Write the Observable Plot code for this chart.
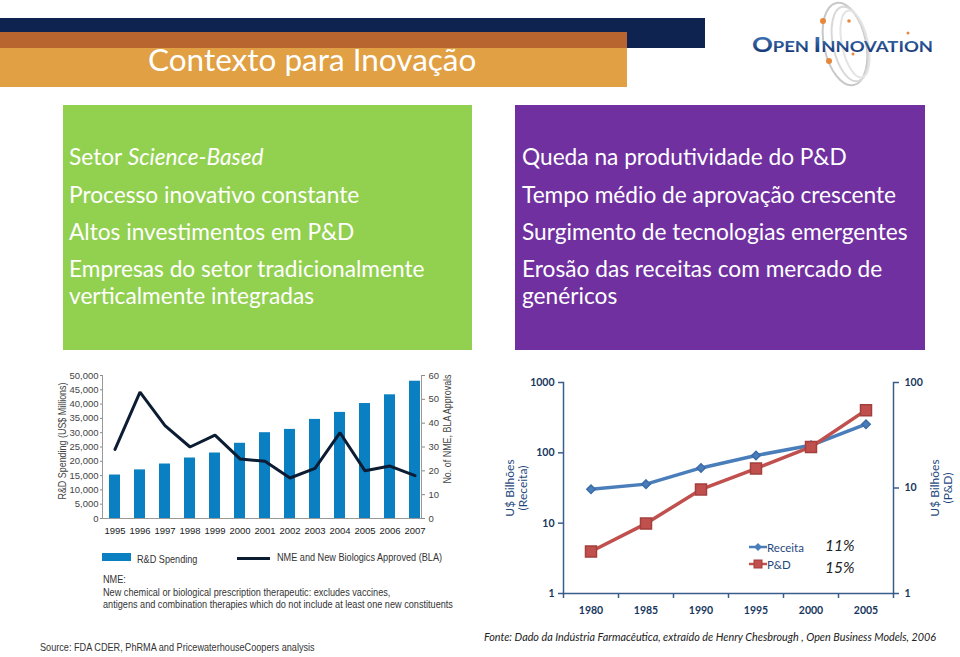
<!DOCTYPE html>
<html>
<head>
<meta charset="utf-8">
<script src="https://cdn.jsdelivr.net/npm/d3@7"></script>
<script src="https://cdn.jsdelivr.net/npm/@observablehq/plot@0.6"></script>
<style>
  html, body { margin:0; padding:0; background:#fff; }
  #slide { position:relative; width:960px; height:657px; overflow:hidden; background:#fff; font-family:Lato, "Open Sans", sans-serif; }
  .abs { position:absolute; }
  .box { position:absolute; color:#fff; font-size:22.7px; }
  .box div { white-space:nowrap; }
  .arial { font-family:"Liberation Sans", Arial, sans-serif; }
  .narrow { transform:scaleX(0.87); transform-origin:left top; white-space:nowrap; }
  .rot { position:absolute; transform-origin:center center; white-space:nowrap; text-align:center; }
</style>
</head>
<body>
<div id="slide">
  <!-- title banner -->
  <div class="abs" style="left:0;top:18px;width:705px;height:30px;background:#0f2350;"></div>
  <div class="abs" style="left:0;top:32px;width:627px;height:16px;background:#b8652f;"></div>
  <div class="abs" style="left:0;top:48px;width:627px;height:39px;background:#e0a043;"></div>
  <div class="abs" style="left:148px;top:40px;font-size:31.5px;color:#fff;font-family:Lato,'Open Sans',sans-serif;white-space:nowrap;">Contexto para Inovação</div>

  <!-- logo -->
  <svg class="abs" style="left:745px;top:0" width="215" height="100">
    <g fill="none" stroke="#c8c8c8" stroke-width="2">
      <ellipse cx="100" cy="44" rx="21" ry="42" transform="rotate(-12 100 44)"/>
      <ellipse cx="105" cy="44" rx="17" ry="38" transform="rotate(-12 105 44)" stroke="#d8d8d8"/>
      <ellipse cx="110" cy="44" rx="13" ry="34" transform="rotate(-12 110 44)" stroke="#e4e4e4"/>
    </g>
    <circle cx="78" cy="21" r="3" fill="#e8873a"/>
    <circle cx="84" cy="61" r="3" fill="#e8873a"/>
    <circle cx="104" cy="21" r="1.8" fill="#e8873a"/>
    <circle cx="108" cy="54" r="1.5" fill="#e8873a"/>
    <circle cx="163" cy="33" r="1.5" fill="#e8873a"/>
    <defs>
      <linearGradient id="lg" x1="0" y1="0" x2="0" y2="1">
        <stop offset="0" stop-color="#4b86c8"/>
        <stop offset="1" stop-color="#0f2a68"/>
      </linearGradient>
    </defs>
    <text x="7" y="52" fill="url(#lg)" font-family="Lato, 'DejaVu Sans', sans-serif" font-weight="bold" font-size="15" textLength="181" lengthAdjust="spacingAndGlyphs"><tspan font-size="21">O</tspan>PEN <tspan font-size="21">I</tspan>NNOVATION</text>
  </svg>

  <!-- green box -->
  <div class="box" style="left:63px;top:105px;width:409px;height:245px;background:#92d050;">
    <div style="padding:37px 0 0 6px;">
      <div style="height:37.5px;line-height:30px">Setor <i>Science-Based</i></div>
      <div style="height:37.5px;line-height:30px">Processo inovativo constante</div>
      <div style="height:37.5px;line-height:30px">Altos investimentos em P&amp;D</div>
      <div style="line-height:27px;">Empresas do setor tradicionalmente<br>verticalmente integradas</div>
    </div>
  </div>

  <!-- purple box -->
  <div class="box" style="left:515px;top:105px;width:410px;height:245px;background:#7030a0;">
    <div style="padding:37px 0 0 7px;">
      <div style="height:37.5px;line-height:30px">Queda na produtividade do P&amp;D</div>
      <div style="height:37.5px;line-height:30px">Tempo médio de aprovação crescente</div>
      <div style="height:37.5px;line-height:30px">Surgimento de tecnologias emergentes</div>
      <div style="line-height:27px;">Erosão das receitas com mercado de<br>genéricos</div>
    </div>
  </div>

  <!-- left chart -->
  <div id="chart1" class="abs" style="left:40px;top:360px;"></div>
  <div class="rot arial" style="left:-13px;top:435px;width:150px;font-size:10.5px;color:#444;transform:rotate(-90deg) scaleX(0.85);">R&amp;D Spending (US$ Millions)</div>
  <div class="rot arial" style="left:372px;top:423px;width:150px;font-size:10.5px;color:#444;transform:rotate(-90deg) scaleX(0.85);">No. of NME, BLA Approvals</div>

  <!-- left legend / notes -->
  <div class="abs" style="left:102px;top:553px;width:29px;height:8px;background:#0a7fc1;"></div>
  <div class="abs arial narrow" style="left:137px;top:553px;font-size:10.5px;color:#333;">R&amp;D Spending</div>
  <div class="abs" style="left:237px;top:557px;width:33px;height:3px;background:#0c1c33;"></div>
  <div class="abs arial narrow" style="left:277px;top:551px;font-size:10.5px;color:#333;">NME and New Biologics Approved (BLA)</div>
  <div class="abs arial narrow" style="left:103px;top:573px;font-size:10.5px;color:#333;line-height:12.7px;">NME:<br>New chemical or biological prescription therapeutic: excludes vaccines,<br>antigens and combination therapies which do not include at least one new constituents</div>
  <div class="abs arial narrow" style="left:40px;top:641px;font-size:10.5px;color:#333;">Source: FDA CDER, PhRMA and PricewaterhouseCoopers analysis</div>

  <!-- right chart -->
  <div id="chart2" class="abs" style="left:490px;top:365px;"></div>
  <div class="rot" style="left:476px;top:475px;width:80px;font-size:12px;color:#1f497d;line-height:13px;transform:rotate(-90deg);">U$ Bilhões<br>(Receita)</div>
  <div class="rot" style="left:901px;top:475px;width:80px;font-size:12px;color:#1f497d;line-height:13px;transform:rotate(-90deg);">U$ Bilhões<br>(P&amp;D)</div>

  <!-- right legend -->
  <svg class="abs" style="left:748px;top:538px" width="20" height="32">
    <line x1="1" y1="9" x2="19" y2="9" stroke="#4a7ebb" stroke-width="2.5"/>
    <path d="M10,5 L14,9 L10,13 L6,9 Z" fill="#4a7ebb"/>
    <line x1="1" y1="26" x2="19" y2="26" stroke="#c0504d" stroke-width="2.5"/>
    <rect x="6" y="22" width="8" height="8" fill="#c0504d" stroke="#a33f3c"/>
  </svg>
  <div class="abs" style="left:767px;top:539px;font-size:11.5px;color:#1f497d;line-height:17px;">Receita<br>P&amp;D</div>
  <div class="abs" style="left:825px;top:534px;font-size:15.5px;font-style:italic;color:#222;line-height:22px;">11%<br>15%</div>

  <div class="abs" style="left:484px;top:630px;font-size:10.8px;font-style:italic;color:#222;white-space:nowrap;">Fonte: Dado da Indústria Farmacêutica, extraído de Henry Chesbrough , Open Business Models, 2006</div>
</div>

<script>
// ---------- Data: left chart ----------
const years1 = ["1995","1996","1997","1998","1999","2000","2001","2002","2003","2004","2005","2006","2007"];
const rdSpending = [15200,17000,19050,21150,22900,26300,30000,31150,34650,37100,40200,43250,48000];
const nmeApprovals = [29,53,39,30,35,25,24,17,21,36,20,22,18];
const leftTicks1 = [0,5000,10000,15000,20000,25000,30000,35000,40000,45000,50000];
const rightTicks1 = [0,10,20,30,40,50,60];

// ---------- Data: right chart ----------
const years2 = [1980,1985,1990,1995,2000,2005];
const receita = [30.4,35.9,61,91.6,128,255];
const pdSpending = [2.5,4.6,9.7,15.3,24.5,54.7];
const leftTicks2 = [1,10,100,1000];
const rightTicks2 = [1,10,100];

// ---------- Left chart ----------
const maxL = 50000, maxR = 60;
const t1 = years1.map((y,i) => ({year:y, rd:rdSpending[i], nme:nmeApprovals[i]}));
const chart1 = Plot.plot({
  width:420, height:180,
  marginLeft:62, marginRight:39, marginTop:15, marginBottom:22,
  style:{fontFamily:"'Liberation Sans', Arial, sans-serif", fontSize:"9.5px", color:"#444", background:"transparent", overflow:"visible"},
  x:{type:"band", domain:years1, paddingInner:0.56, paddingOuter:0.14, align:0.85},
  y:{domain:[0,maxL]},
  marks:[
    Plot.barY(t1, {x:"year", y:"rd", fill:"#0a7fc1"}),
    Plot.lineY(t1, {x:"year", y:d => d.nme*maxL/maxR, stroke:"#0c1c33", strokeWidth:3, strokeLinejoin:"miter"}),
    Plot.axisY({ticks:leftTicks1, tickFormat:d3.format(","), tickSize:2, tickPadding:2, label:null, stroke:"#888"}),
    Plot.axisY({anchor:"right", ticks:rightTicks1.map(v => v*maxL/maxR), tickFormat:d => String(Math.round(d*maxR/maxL)), tickSize:3, tickPadding:4, label:null, stroke:"#888"}),
    Plot.axisX({tickSize:0, tickPadding:9, label:null, fill:"#222"}),
    Plot.ruleY([0], {stroke:"#999"}),
    Plot.frame({anchor:"left", stroke:"#999"}),
    Plot.frame({anchor:"right", stroke:"#999"})
  ]
});
document.getElementById("chart1").appendChild(chart1);

// ---------- Right chart ----------
const t2 = years2.map((y,i) => ({year:y, receita:receita[i], pd:pdSpending[i]}));
const toLeft = v => Math.pow(v, 1.5);          // right axis (1–100) onto left axis (1–1000)
const fromLeft = v => Math.pow(v, 1/1.5);
const bounds = d3.range(years2.length + 1).map(i => years2[0] - 2.5 + 5*i);
const chart2 = Plot.plot({
  width:470, height:260,
  marginLeft:73, marginRight:67, marginTop:17, marginBottom:32,
  style:{fontFamily:"Lato, 'Open Sans', sans-serif", fontSize:"10.5px", color:"#17375e", background:"transparent", overflow:"visible", fontWeight:"bold"},
  x:{domain:[bounds[0], bounds[bounds.length-1]]},
  y:{type:"log", domain:[1,1000]},
  marks:[
    Plot.frame({anchor:"left", stroke:"#385d8a", strokeWidth:1.5}),
    Plot.frame({anchor:"right", stroke:"#385d8a", strokeWidth:1.5}),
    Plot.frame({anchor:"bottom", stroke:"#385d8a", strokeWidth:1.5}),
    Plot.axisY({ticks:leftTicks2, tickFormat:d => String(d), tickSize:5, tickPadding:4, label:null, stroke:"#385d8a", strokeWidth:1.5}),
    Plot.axisY({anchor:"right", ticks:rightTicks2.map(toLeft), tickFormat:d => String(Math.round(fromLeft(d))), tickSize:5, tickPadding:6, label:null, stroke:"#385d8a", strokeWidth:1.5}),
    Plot.axisX({ticks:bounds, tickFormat:() => "", tickSize:5, label:null, stroke:"#385d8a", strokeWidth:1.5}),
    Plot.axisX({ticks:years2, tickFormat:d => String(d), tickSize:0, tickPadding:13, label:null}),
    Plot.lineY(t2, {x:"year", y:"receita", stroke:"#4a7ebb", strokeWidth:3.5}),
    Plot.dot(t2, {x:"year", y:"receita", symbol:"diamond2", fill:"#4a7ebb", stroke:"#3c6ca6", r:3.8}),
    Plot.lineY(t2, {x:"year", y:d => toLeft(d.pd), stroke:"#c0504d", strokeWidth:3.5}),
    Plot.dot(t2, {x:"year", y:d => toLeft(d.pd), symbol:"square", fill:"#c0504d", stroke:"#a33f3c", r:6.2})
  ]
});
document.getElementById("chart2").appendChild(chart2);
</script>
</body>
</html>
